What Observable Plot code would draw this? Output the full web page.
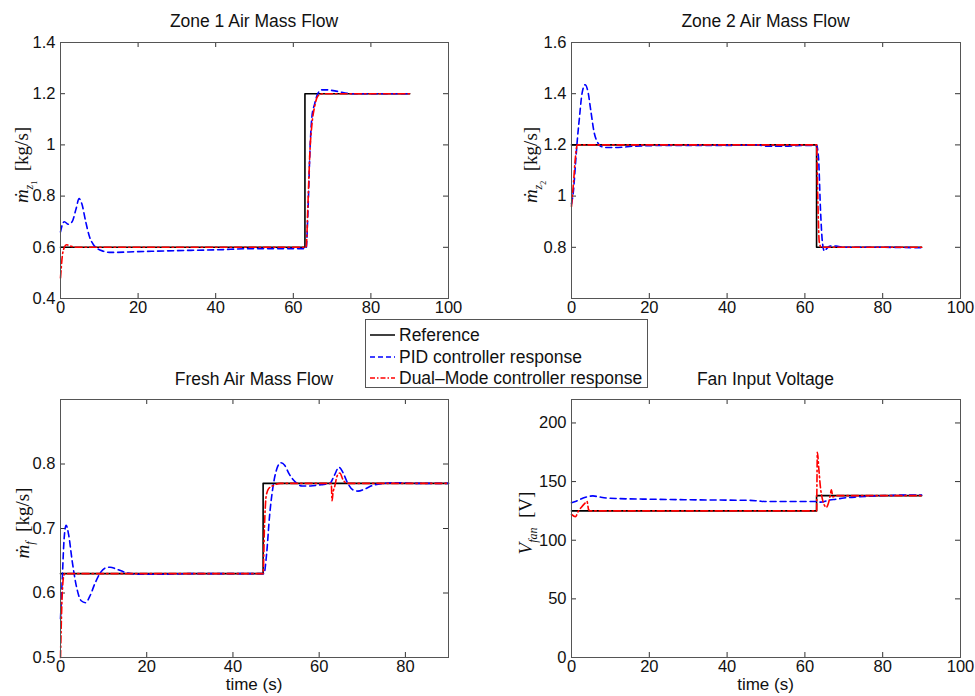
<!DOCTYPE html>
<html><head><meta charset="utf-8">
<script src="https://cdn.jsdelivr.net/npm/d3@7"></script>
<script src="https://cdn.jsdelivr.net/npm/@observablehq/plot@0.6"></script>
<style>
body{margin:0;background:#fff;}
#root{position:relative;width:975px;height:696px;overflow:hidden;font-family:"Liberation Sans",Arial,sans-serif;color:#111;}
.panel{position:absolute;}
.title{position:absolute;font-size:17.5px;white-space:nowrap;transform:translate(-50%,-50%);}
.ylab{position:absolute;font-family:"Liberation Serif","DejaVu Serif",serif;font-size:19px;white-space:nowrap;transform:translate(-50%,-50%) rotate(-90deg);}
.ylab sub{font-size:12px;}
.xlab{position:absolute;font-size:17px;white-space:nowrap;transform:translate(-50%,-50%);}
#legend{position:absolute;left:365px;top:319px;width:281px;height:67px;border:1px solid #555;background:#fff;font-size:17.5px;}
#legend .row{position:absolute;left:4px;height:20px;display:flex;align-items:center;transform:translateY(-50%);white-space:nowrap;}
#legend svg{margin-right:4px;}
</style>
</head><body>
<div id="root"></div>
<script>
// ---------- data: [time (s), value] ----------
const zone1Reference = [[0,0.6],[63,0.6],[63,1.2],[90,1.2]];
const zone1PID = [[0,0.66],[0.5,0.69],[1,0.70],[2,0.69],[3,0.70],[4,0.75],[4.8,0.79],[5.5,0.77],[6.5,0.70],[7.5,0.64],[8.5,0.61],[9.5,0.595],[11,0.585],[13,0.58],[20,0.583],[30,0.587],[40,0.59],[50,0.595],[60,0.595],[63.3,0.595],[63.8,0.75],[64.3,0.98],[64.8,1.11],[65.5,1.16],[66.3,1.2],[67.3,1.215],[68.5,1.215],[71,1.21],[75,1.2],[90,1.2]];
const zone1Dual = [[0,0.48],[0.5,0.57],[1,0.6],[1.5,0.61],[2.5,0.605],[4,0.6],[63.3,0.6],[63.8,0.78],[64.3,0.98],[64.8,1.08],[65.5,1.15],[66.3,1.19],[67.5,1.2],[90,1.2]];

const zone2Reference = [[0,1.2],[63,1.2],[63,0.8],[90,0.8]];
const zone2PID = [[0,0.97],[0.5,1.02],[1,1.12],[1.5,1.22],[2,1.3],[2.7,1.4],[3.5,1.435],[4.2,1.41],[5,1.33],[5.8,1.25],[6.7,1.21],[7.5,1.195],[9,1.19],[12,1.19],[16,1.195],[25,1.198],[40,1.198],[48,1.2],[50,1.195],[55,1.195],[60,1.198],[63,1.198],[63.5,1.15],[64,0.95],[64.5,0.82],[65,0.785],[65.6,0.795],[66.5,0.805],[68,0.805],[70,0.8],[80,0.8],[90,0.798]];
const zone2Dual = [[0,0.96],[0.5,1.05],[1,1.15],[1.5,1.2],[63,1.2],[63.3,1.0],[63.7,0.82],[64.2,0.8],[90,0.8]];

const freshReference = [[0,0.63],[47,0.63],[47,0.77],[90,0.77]];
const freshPID = [[0,0.56],[0.4,0.62],[0.8,0.68],[1.3,0.705],[1.9,0.69],[2.7,0.65],[3.7,0.61],[4.8,0.588],[5.8,0.585],[6.8,0.595],[8,0.615],[9.3,0.632],[10.5,0.639],[11.5,0.64],[13,0.637],[15,0.632],[18,0.629],[22,0.629],[30,0.63],[47.2,0.63],[47.8,0.66],[48.5,0.72],[49.3,0.765],[50.2,0.793],[51.1,0.802],[52,0.798],[53,0.785],[54.5,0.772],[56,0.766],[58,0.766],[60.5,0.768],[62.5,0.77],[63.5,0.782],[64.6,0.795],[65.5,0.787],[66.5,0.772],[67.8,0.76],[69,0.758],[70.5,0.761],[72.5,0.767],[75,0.77],[78,0.771],[82,0.77],[90,0.77]];
const freshDual = [[0,0.5],[0.3,0.58],[0.7,0.625],[1,0.63],[47,0.63],[47.3,0.7],[47.7,0.75],[48.3,0.762],[49.5,0.767],[51,0.77],[62.8,0.77],[63,0.743],[63.2,0.755],[63.6,0.765],[64.2,0.782],[64.8,0.786],[65.5,0.776],[66.5,0.77],[90,0.77]];

const fanReference = [[0,125],[63,125],[63,138],[90,138]];
const fanPID = [[0,132],[1,133],[2,134.5],[3,136],[4,137],[5.5,137.8],[7,137],[9,136],[12,135.5],[20,135],[30,134.5],[40,134.2],[46,134],[48,133.5],[50,133],[55,133],[63,133],[64,132.5],[66,134],[68,135],[70,136],[74,137],[78,137.8],[82,138.2],[86,138.5],[90,138.5]];
const fanDual = [[0,122],[1,120],[1.8,125],[2.5,128],[3.3,131],[4,133],[4.4,126],[4.8,125],[63,125],[63.2,175],[63.6,160],[64,145],[64.5,135],[65,130],[65.5,128],[66,131],[66.5,138],[66.8,143],[67.2,137],[68,138],[90,138]];

// ticks
const xTicks100 = [0,20,40,60,80,100];
const xTicks90 = [0,20,40,60,80];
const zone1YTicks = [0.4,0.6,0.8,1,1.2,1.4];
const zone2YTicks = [0.8,1,1.2,1.4,1.6];
const freshYTicks = [0.5,0.6,0.7,0.8];
const fanYTicks = [0,50,100,150,200];

const titles = ["Zone 1 Air Mass Flow","Zone 2 Air Mass Flow","Fresh Air Mass Flow","Fan Input Voltage"];
const legendLabels = ["Reference","PID controller response","Dual\u2013Mode controller response"];

// ---------- layout ----------
const root = document.getElementById("root");
const ML = 60, MR = 15, MT = 10, MB = 30;
const fmt = d => String(+(+d).toFixed(3));

function panel(cfg){
  const w = cfg.x1 - cfg.x0, h = cfg.y1 - cfg.y0;
  const sty = {stroke:"#333", strokeWidth:1};
  const chart = Plot.plot({
    width: w + ML + MR, height: h + MT + MB,
    marginLeft: ML, marginRight: MR, marginTop: MT, marginBottom: MB,
    style: {fontSize:"16px", fontFamily:"'Liberation Sans', Arial, sans-serif", color:"#111", background:"transparent", overflow:"visible"},
    x: {domain: cfg.xDomain},
    y: {domain: cfg.yDomain},
    marks: [
      Plot.ruleX(cfg.xTicks, {x: d=>d, insetTop: h-5, ...sty}),
      Plot.ruleX(cfg.xTicks, {x: d=>d, insetBottom: h-5, ...sty}),
      Plot.ruleY(cfg.yTicks, {y: d=>d, insetRight: w-5, ...sty}),
      Plot.ruleY(cfg.yTicks, {y: d=>d, insetLeft: w-5, ...sty}),
      Plot.axisX(cfg.xTicks, {tickSize:0, tickPadding:3, tickFormat: fmt, label:null, fontSize:16.5}),
      Plot.axisY(cfg.yTicks, {tickSize:0, tickPadding:5, tickFormat: fmt, label:null, fontSize:16.5}),
      Plot.line(cfg.ref, {x:d=>d[0], y:d=>d[1], stroke:"#000", strokeWidth:1.6}),
      Plot.line(cfg.pid, {x:d=>d[0], y:d=>d[1], stroke:"#0000ff", strokeWidth:1.6, strokeDasharray:"6,4", curve:"monotone-x"}),
      Plot.line(cfg.dual, {x:d=>d[0], y:d=>d[1], stroke:"#ff0000", strokeWidth:1.6, strokeDasharray:"7,3,1.5,3", curve:"monotone-x"}),
      Plot.frame({stroke:"#555", strokeWidth:1})
    ]
  });
  const div = document.createElement("div");
  div.className = "panel";
  div.style.left = (cfg.x0 - ML) + "px";
  div.style.top = (cfg.y0 - MT) + "px";
  div.appendChild(chart);
  root.appendChild(div);

  const t = document.createElement("div");
  t.className = "title";
  t.textContent = cfg.title;
  t.style.left = ((cfg.x0 + cfg.x1)/2) + "px";
  t.style.top = cfg.titleY + "px";
  root.appendChild(t);

  const yl = document.createElement("div");
  yl.className = "ylab";
  yl.innerHTML = cfg.ylab;
  yl.style.left = cfg.ylabX + "px";
  yl.style.top = ((cfg.y0 + cfg.y1)/2 - 5) + "px";
  root.appendChild(yl);

  if (cfg.xlab) {
    const xl = document.createElement("div");
    xl.className = "xlab";
    xl.textContent = cfg.xlab;
    xl.style.left = ((cfg.x0 + cfg.x1)/2) + "px";
    xl.style.top = (cfg.y1 + 28) + "px";
    root.appendChild(xl);
  }
}

panel({x0:60, x1:448, y0:42, y1:298, xDomain:[0,100], yDomain:[0.4,1.4], xTicks:xTicks100, yTicks:zone1YTicks,
  ref:zone1Reference, pid:zone1PID, dual:zone1Dual, title:titles[0], titleY:21, ylabX:25,
  ylab:'<i>ṁ</i><sub><i>z</i><sub style="font-size:8px">1</sub></sub>&nbsp;&nbsp;[kg/s]'});
panel({x0:571, x1:960, y0:42, y1:298, xDomain:[0,100], yDomain:[0.6,1.6], xTicks:xTicks100, yTicks:zone2YTicks,
  ref:zone2Reference, pid:zone2PID, dual:zone2Dual, title:titles[1], titleY:21, ylabX:534,
  ylab:'<i>ṁ</i><sub><i>z</i><sub style="font-size:8px">2</sub></sub>&nbsp;&nbsp;[kg/s]'});
panel({x0:60, x1:448, y0:399, y1:657, xDomain:[0,90], yDomain:[0.5,0.9], xTicks:xTicks90, yTicks:freshYTicks,
  ref:freshReference, pid:freshPID, dual:freshDual, title:titles[2], titleY:379, ylabX:25, xlab:"time (s)",
  ylab:'<i>ṁ</i><sub><i>f</i></sub>&nbsp;&nbsp;[kg/s]'});
panel({x0:571, x1:960, y0:399, y1:657, xDomain:[0,100], yDomain:[0,220], xTicks:xTicks100, yTicks:fanYTicks,
  ref:fanReference, pid:fanPID, dual:fanDual, title:titles[3], titleY:379, ylabX:528, xlab:"time (s)",
  ylab:'<i>V</i><sub><i>fan</i></sub>&nbsp;&nbsp;[V]'});

// ---------- legend ----------
const legend = document.createElement("div");
legend.id = "legend";
const swatches = [
  {stroke:"#000", dash:null},
  {stroke:"#0000ff", dash:"5,3"},
  {stroke:"#ff0000", dash:"5,2,1.5,2"}
];
const rowY = [15, 37, 58];
legendLabels.forEach((lab, i) => {
  const r = document.createElement("div");
  r.className = "row";
  r.style.top = rowY[i] + "px";
  r.innerHTML = `<svg width="25" height="4"><line x1="0" y1="2" x2="25" y2="2" stroke="${swatches[i].stroke}" stroke-width="1.5" ${swatches[i].dash ? `stroke-dasharray="${swatches[i].dash}"` : ""}/></svg><span>${lab}</span>`;
  legend.appendChild(r);
});
root.appendChild(legend);
</script>
</body></html>
